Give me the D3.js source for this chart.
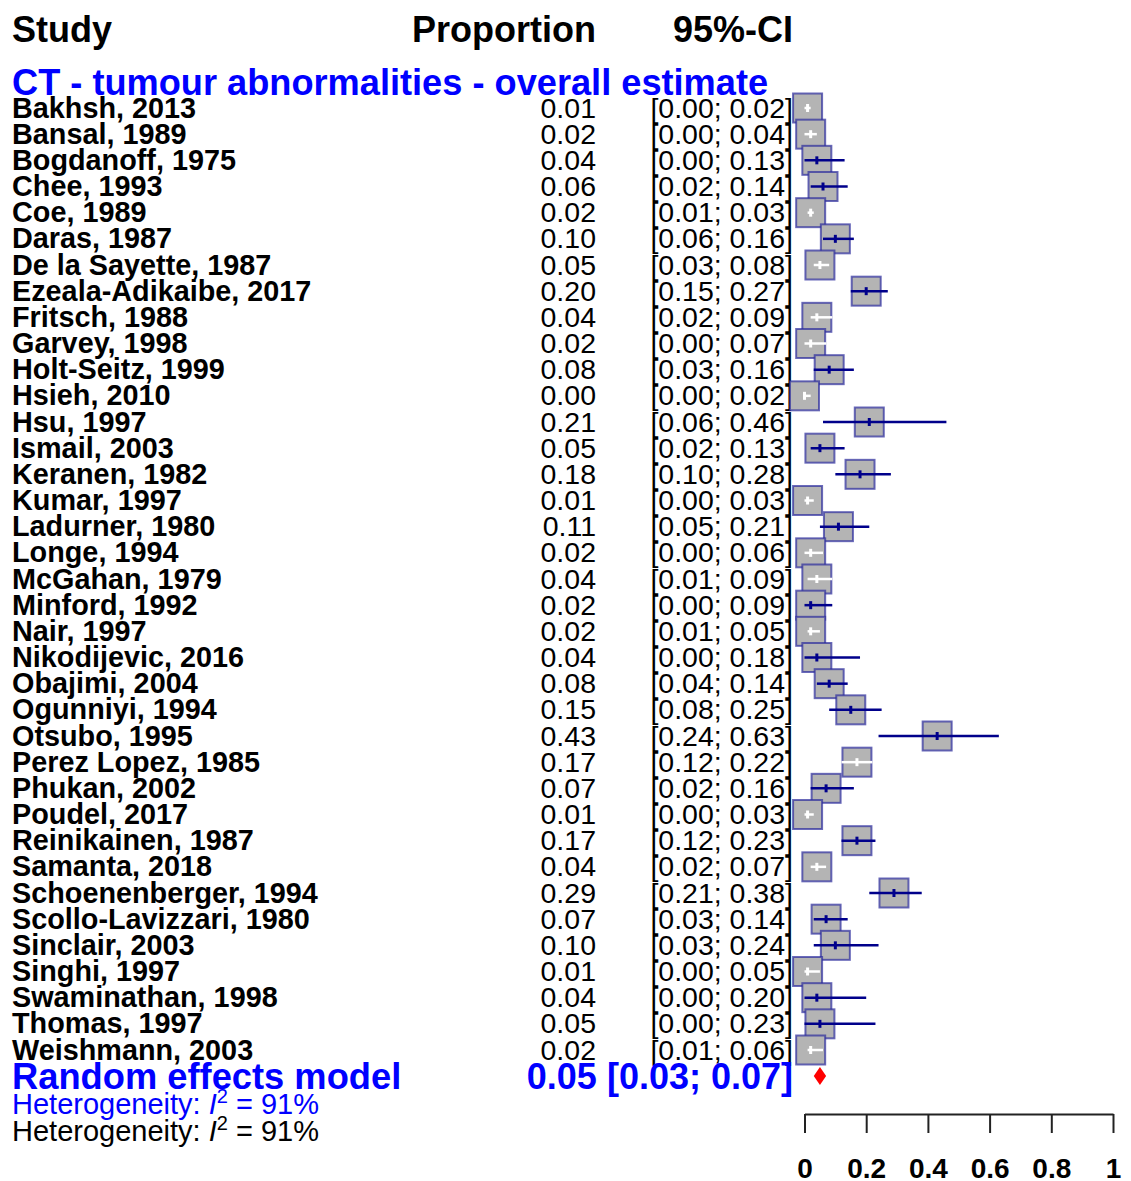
<!DOCTYPE html>
<html>
<head>
<meta charset="utf-8">
<script src="https://cdn.jsdelivr.net/npm/d3@7"></script>
<style>
  body { margin: 0; background: #fff; }
  svg text { font-family: "Liberation Sans", Arial, Helvetica, sans-serif; }
</style>
</head>
<body>
<svg id="chart" width="1131" height="1181"></svg>
<script>
// Study-level proportions with 95% confidence intervals
const studies = [
  "Bakhsh, 2013", "Bansal, 1989", "Bogdanoff, 1975", "Chee, 1993", "Coe, 1989",
  "Daras, 1987", "De la Sayette, 1987", "Ezeala-Adikaibe, 2017", "Fritsch, 1988",
  "Garvey, 1998", "Holt-Seitz, 1999", "Hsieh, 2010", "Hsu, 1997", "Ismail, 2003",
  "Keranen, 1982", "Kumar, 1997", "Ladurner, 1980", "Longe, 1994", "McGahan, 1979",
  "Minford, 1992", "Nair, 1997", "Nikodijevic, 2016", "Obajimi, 2004", "Ogunniyi, 1994",
  "Otsubo, 1995", "Perez Lopez, 1985", "Phukan, 2002", "Poudel, 2017", "Reinikainen, 1987",
  "Samanta, 2018", "Schoenenberger, 1994", "Scollo-Lavizzari, 1980", "Sinclair, 2003",
  "Singhi, 1997", "Swaminathan, 1998", "Thomas, 1997", "Weishmann, 2003"
];
const proportions = [
  0.01, 0.02, 0.04, 0.06, 0.02, 0.10, 0.05, 0.20, 0.04, 0.02, 0.08, 0.00, 0.21,
  0.05, 0.18, 0.01, 0.11, 0.02, 0.04, 0.02, 0.02, 0.04, 0.08, 0.15, 0.43, 0.17,
  0.07, 0.01, 0.17, 0.04, 0.29, 0.07, 0.10, 0.01, 0.04, 0.05, 0.02
];
const ciLower = [
  0.00, 0.00, 0.00, 0.02, 0.01, 0.06, 0.03, 0.15, 0.02, 0.00, 0.03, 0.00, 0.06,
  0.02, 0.10, 0.00, 0.05, 0.00, 0.01, 0.00, 0.01, 0.00, 0.04, 0.08, 0.24, 0.12,
  0.02, 0.00, 0.12, 0.02, 0.21, 0.03, 0.03, 0.00, 0.00, 0.00, 0.01
];
const ciUpper = [
  0.02, 0.04, 0.13, 0.14, 0.03, 0.16, 0.08, 0.27, 0.09, 0.07, 0.16, 0.02, 0.46,
  0.13, 0.28, 0.03, 0.21, 0.06, 0.09, 0.09, 0.05, 0.18, 0.14, 0.25, 0.63, 0.22,
  0.16, 0.03, 0.23, 0.07, 0.38, 0.14, 0.24, 0.05, 0.20, 0.23, 0.06
];
// Random effects pooled estimate: [estimate, lower, upper]
const pooledEstimate = [0.05, 0.03, 0.07];
const heterogeneityI2 = [91];
const axisTicks = [0, 0.2, 0.4, 0.6, 0.8, 1];

const svg = d3.select("#chart");
const fmt = d3.format(".2f");
const BLUE = "#0000ff";

// Horizontal scale for the forest panel, vertical point scale for study rows
const x = d3.scaleLinear().domain([0, 1]).range([804.5, 1113]);
const y = d3.scalePoint().domain(studies).range([108, 1050]);

// Column headers
const header = svg.append("g").attr("font-weight", "bold").attr("font-size", 36).attr("fill", "#000");
header.append("text").attr("x", 12).attr("y", 42).text("Study");
header.append("text").attr("x", 596).attr("y", 42).attr("text-anchor", "end").text("Proportion");
header.append("text").attr("x", 793).attr("y", 42).attr("text-anchor", "end").text("95%-CI");

// Subgroup title
svg.append("text")
  .attr("x", 12).attr("y", 95)
  .attr("font-size", 36.2).attr("font-weight", "bold").attr("fill", BLUE)
  .text("CT - tumour abnormalities - overall estimate");

const rows = studies.map((s, i) => ({
  study: s, p: proportions[i], lo: ciLower[i], hi: ciUpper[i]
}));

// Study labels, estimates and intervals
const textRows = svg.append("g").selectAll("g").data(rows).join("g")
  .attr("transform", d => `translate(0,${y(d.study) + 9.5})`);
textRows.append("text").attr("x", 12).attr("font-size", 28.8).attr("font-weight", "bold")
  .text(d => d.study);
textRows.append("text").attr("x", 596).attr("text-anchor", "end").attr("font-size", 28.5)
  .text(d => fmt(d.p));
textRows.append("text").attr("x", 793).attr("text-anchor", "end").attr("font-size", 28.5)
  .text(d => `[${fmt(d.lo)}; ${fmt(d.hi)}]`);

// Forest marks: squares, CI lines and point markers
const BOX = 29;
const halfBox = x.invert(x(0) + BOX / 2) - x.invert(x(0));
const marks = svg.append("g").selectAll("g").data(rows).join("g")
  .attr("transform", d => `translate(0,${y(d.study)})`);
marks.each(function (d) {
  const g = d3.select(this);
  // intervals that fit inside their square are drawn in white
  const inside = (d.p - d.lo) <= halfBox + 0.004 && (d.hi - d.p) <= halfBox + 0.004;
  const col = inside ? "#ffffff" : "#00008b";
  g.append("rect")
    .attr("x", x(d.p) - BOX / 2).attr("y", -BOX / 2)
    .attr("width", BOX).attr("height", BOX)
    .attr("fill", "#b4b4b4")
    .attr("stroke", "#2b2b9c").attr("stroke-opacity", 0.7).attr("stroke-width", 2);
  g.append("line")
    .attr("x1", x(d.lo)).attr("x2", x(d.hi)).attr("y1", 0).attr("y2", 0)
    .attr("stroke", col).attr("stroke-width", 2.5);
  g.append("line")
    .attr("x1", x(d.p)).attr("x2", x(d.p)).attr("y1", -4).attr("y2", 4)
    .attr("stroke", col).attr("stroke-width", 3);
});

// Random effects model row
const reY = 1089;
svg.append("text").attr("x", 12).attr("y", reY)
  .attr("font-size", 36.3).attr("font-weight", "bold").attr("fill", BLUE)
  .text("Random effects model");
svg.append("text").attr("x", 793).attr("y", reY).attr("text-anchor", "end")
  .attr("font-size", 36).attr("font-weight", "bold").attr("fill", BLUE)
  .text(`${fmt(pooledEstimate[0])} [${fmt(pooledEstimate[1])}; ${fmt(pooledEstimate[2])}]`);
const dy = 1076, dh = 9;
svg.append("path")
  .attr("d", `M${x(pooledEstimate[1])},${dy} L${x(pooledEstimate[0])},${dy - dh} L${x(pooledEstimate[2])},${dy} L${x(pooledEstimate[0])},${dy + dh} Z`)
  .attr("fill", "#ff0000");

// Heterogeneity lines
function hetLine(yb, color) {
  const t = svg.append("text").attr("x", 12).attr("y", yb).attr("font-size", 29).attr("fill", color);
  t.append("tspan").text("Heterogeneity: ");
  t.append("tspan").attr("font-style", "italic").text("I");
  t.append("tspan").attr("font-size", 20).attr("dy", -11).text("2");
  t.append("tspan").attr("dy", 11).text(` = ${heterogeneityI2[0]}%`);
}
hetLine(1114, BLUE);
hetLine(1141, "#000");

// Bottom axis
const axis = d3.axisBottom(x).tickValues(axisTicks).tickSize(19).tickSizeOuter(0)
  .tickFormat(d3.format(""));
const ax = svg.append("g").attr("transform", "translate(0,1114)").call(axis);
ax.select(".domain").attr("stroke", "#222").attr("stroke-width", 2);
ax.selectAll(".tick line").attr("stroke", "#222").attr("stroke-width", 2);
ax.selectAll(".tick text")
  .attr("y", 64).attr("dy", 0)
  .attr("font-size", 28).attr("font-weight", "bold").attr("fill", "#000")
  .attr("font-family", "Liberation Sans, Arial, sans-serif");
</script>
</body>
</html>
